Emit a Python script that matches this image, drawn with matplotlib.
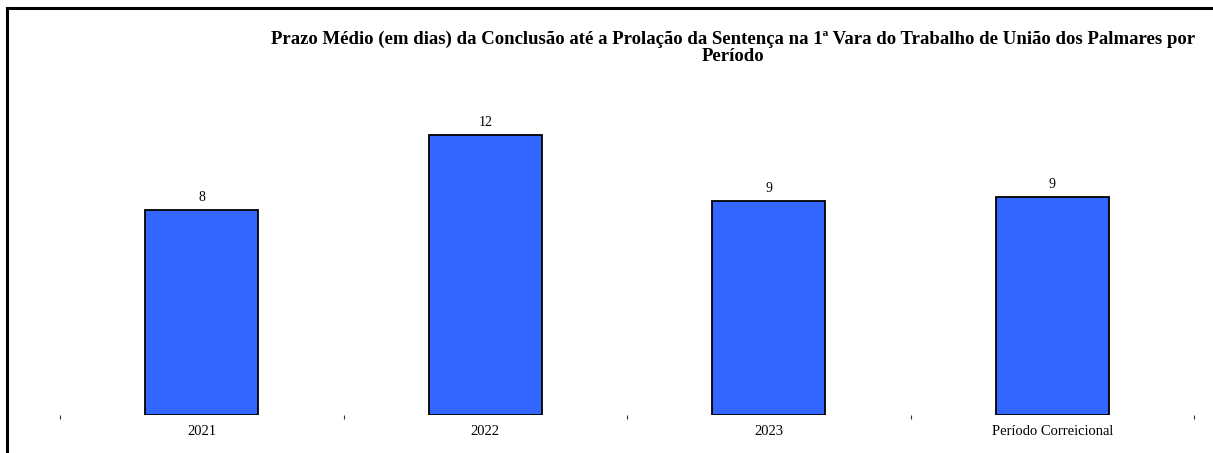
import matplotlib.pyplot as plt
from matplotlib.lines import Line2D

categories = ["2021", "2022", "2023", "Período Correicional"]
values = [8.46, 11.55, 8.84, 9.01]
title = ("Prazo Médio (em dias) da Conclusão até a Prolação da Sentença na 1ª Vara "
         "do Trabalho de União dos Palmares por\nPeríodo")

W, H = 1213, 453
fig = plt.figure(figsize=(W / 100, H / 100), dpi=100)
fig.set_facecolor("white")
plt.rcParams["font.family"] = ["Liberation Serif", "DejaVu Serif"]

# axes placed in pixel terms: baseline at y=415, category span 60..1194
px_per_unit = 24.24
top_px = 70
ax = fig.add_axes([60 / W, 1 - 415 / H, (1194 - 60) / W, (415 - top_px) / H])
ax.set_xlim(-0.5, len(categories) - 0.5)
ax.set_ylim(0, (415 - top_px) / px_per_unit)

x = list(range(len(categories)))
bars = ax.bar(x, values, width=0.4, color="#3366FF", edgecolor="black", linewidth=1.3)
for xi, v in zip(x, values):
    ax.annotate(f"{v:.0f}", (xi, v), xytext=(0, 4), textcoords="offset points",
                ha="center", va="bottom", fontsize=10)

for s in ax.spines.values():
    s.set_visible(False)
ax.set_yticks([])
ax.set_xticks(x)
ax.set_xticklabels(categories, fontsize=10.5)
ax.tick_params(axis="x", which="major", length=0, pad=7)
ax.set_xticks([i - 0.5 for i in range(len(categories) + 1)], minor=True)
ax.tick_params(axis="x", which="minor", length=3, width=0.8, color="#333333", direction="out")

fig.text(733 / W, 1 - 31 / H, title, ha="center", va="top", fontsize=13.5,
         fontweight="bold", linespacing=0.98)

# frame lines on top and left
fig.add_artist(Line2D([7 / W, 1], [1 - 8 / H, 1 - 8 / H], color="black", lw=2.2))
fig.add_artist(Line2D([7 / W, 7 / W], [0, 1 - 8 / H], color="black", lw=2.2))

plt.savefig("out.png", dpi=100)
